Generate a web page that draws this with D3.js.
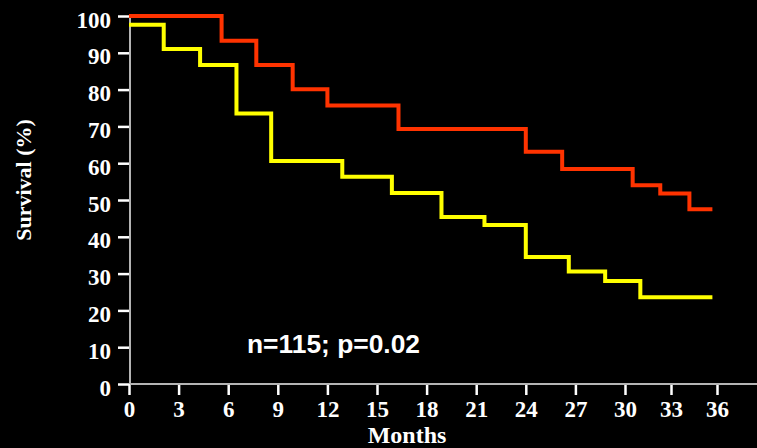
<!DOCTYPE html>
<html>
<head>
<meta charset="utf-8">
<script src="https://cdn.jsdelivr.net/npm/d3@7"></script>
<style>
  html, body { margin: 0; padding: 0; background: #000; }
  svg { display: block; }
</style>
</head>
<body>
<svg id="chart"></svg>
<script>
// month ticks and survival ticks
var monthTicks = [0, 3, 6, 9, 12, 15, 18, 21, 24, 27, 30, 33, 36];
var survivalTicks = [0, 10, 20, 30, 40, 50, 60, 70, 80, 90, 100];

// step curves: [month, survival %]
var redMonths   = [0, 5.6, 7.7, 9.9, 12.0, 16.3, 24.0, 26.2, 30.5, 32.3, 34.2, 35.7];
var redSurvival = [100, 93.3, 86.7, 80.1, 75.7, 69.3, 63.1, 58.4, 54.0, 51.8, 47.5, 47.5];

var yellowMonths   = [0, 2.1, 4.3, 6.5, 8.6, 12.9, 15.9, 18.9, 21.5, 24.0, 26.6, 28.8, 31.0, 35.7];
var yellowSurvival = [97.6, 91.0, 86.7, 73.5, 60.6, 56.3, 51.9, 45.4, 43.2, 34.5, 30.6, 28.0, 23.6, 23.6];

var annotation = "n=115; p=0.02";

var width = 757, height = 448;

var svg = d3.select("#chart")
  .attr("width", width)
  .attr("height", height)
  .style("background", "#000");

// the original axis is slightly compressed after 30 months
var x = d3.scaleLinear()
  .domain([0, 30, 36])
  .range([129, 625, 717]);

var y = d3.scaleLinear()
  .domain([0, 100])
  .range([384, 16]);

var serif = "'Liberation Serif', 'Times New Roman', serif";

// axes
var xAxis = svg.append("g")
  .attr("transform", "translate(0," + y(0) + ")")
  .call(d3.axisBottom(x).tickValues(monthTicks).tickSize(11).tickPadding(5));

var yAxis = svg.append("g")
  .attr("transform", "translate(" + (x(0) + 1) + ",0)")
  .call(d3.axisLeft(y).tickValues(survivalTicks).tickSize(12).tickPadding(7));

[xAxis, yAxis].forEach(function(g) {
  g.select(".domain").remove();
  g.selectAll(".tick line")
    .attr("stroke", "#fff")
    .attr("stroke-width", 2.5);
  g.selectAll(".tick text")
    .attr("fill", "#fff")
    .style("font-family", serif)
    .style("font-weight", "bold");
});

xAxis.selectAll(".tick text")
  .style("font-size", "23px")
  .attr("dy", "0.75em");

yAxis.selectAll(".tick text")
  .style("font-size", "23px")
  .attr("dy", "0.48em");

// axis lines (grey)
svg.append("line")
  .attr("x1", x(0) + 1).attr("x2", width)
  .attr("y1", y(0)).attr("y2", y(0))
  .attr("stroke", "#b4b4b4")
  .attr("stroke-width", 2);

svg.append("line")
  .attr("x1", x(0) + 1).attr("x2", x(0) + 1)
  .attr("y1", y(100)).attr("y2", y(0))
  .attr("stroke", "#b4b4b4")
  .attr("stroke-width", 2);

// survival curves
var line = d3.line()
  .x(function(d) { return x(d[0]); })
  .y(function(d) { return y(d[1]); })
  .curve(d3.curveStepAfter);

var curves = [
  { months: yellowMonths, surv: yellowSurvival, color: "#ffff00" },
  { months: redMonths, surv: redSurvival, color: "#ff3300" }
];

svg.append("g")
  .selectAll("path")
  .data(curves)
  .enter().append("path")
  .attr("d", function(c) { return line(d3.zip(c.months, c.surv)); })
  .attr("fill", "none")
  .attr("stroke", function(c) { return c.color; })
  .attr("stroke-width", 4)
  .attr("stroke-linejoin", "miter");

// labels
svg.append("text")
  .attr("x", 407)
  .attr("y", 443)
  .attr("text-anchor", "middle")
  .attr("fill", "#fff")
  .style("font-family", serif)
  .style("font-weight", "bold")
  .style("font-size", "24px")
  .text("Months");

svg.append("text")
  .attr("transform", "translate(31,180) rotate(-90)")
  .attr("text-anchor", "middle")
  .attr("fill", "#fff")
  .style("font-family", serif)
  .style("font-weight", "bold")
  .style("font-size", "22px")
  .text("Survival (%)");

svg.append("text")
  .attr("x", 247)
  .attr("y", 353)
  .attr("fill", "#fff")
  .attr("textLength", 173)
  .attr("lengthAdjust", "spacingAndGlyphs")
  .style("font-family", "'Liberation Sans', Arial, sans-serif")
  .style("font-weight", "bold")
  .style("font-size", "25px")
  .text(annotation);
</script>
</body>
</html>
